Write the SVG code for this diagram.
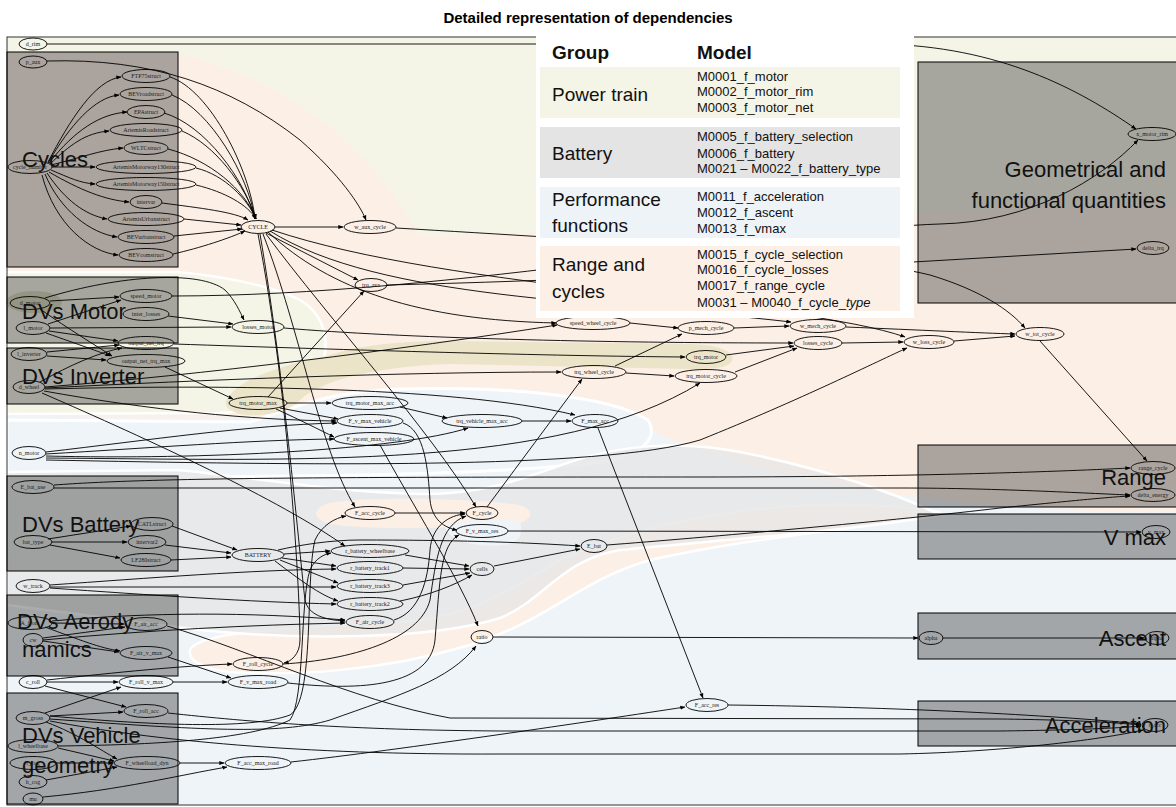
<svg xmlns="http://www.w3.org/2000/svg" width="1176" height="807" viewBox="0 0 1176 807">
<defs>
<marker id="a" viewBox="0 0 6 6" refX="5.6" refY="3" markerWidth="5" markerHeight="5" orient="auto" markerUnits="userSpaceOnUse"><path d="M0,0.6 L6,3 L0,5.4 Z" fill="#000"/></marker>
<style>
.n ellipse{fill:none;stroke:#000;stroke-width:0.9}
.n text{font-family:"Liberation Serif","Times New Roman",serif;font-size:6px;fill:#222;text-anchor:middle}
.e path{fill:none;stroke:#000;stroke-width:0.9;marker-end:url(#a)}
.cl{fill:#484848;fill-opacity:0.45;stroke:#000;stroke-width:1}
.lb{font-family:"Liberation Sans",Arial,sans-serif;font-size:22px;fill:#111}
.lbe{font-family:"Liberation Sans",Arial,sans-serif;font-size:22px;fill:#111;text-anchor:end}
.lg{font-family:"Liberation Sans",Arial,sans-serif;font-size:19px;fill:#111}
.lm{font-family:"Liberation Sans",Arial,sans-serif;font-size:13px;fill:#111}
</style>
</defs>
<rect width="1176" height="807" fill="#fff"/>
<text x="588" y="23" text-anchor="middle" font-family="Liberation Sans, Arial, sans-serif" font-size="15" font-weight="bold" fill="#000">Detailed representation of dependencies</text>

<g id="background">
<rect x="7" y="37" width="1175" height="768" fill="#eff4f8"/>
<path d="M7,37 H1176 V205 C1000,207 700,222 540,232 L420,236 C395,190 330,90 178,53 L7,53 Z" fill="#f4f5e6"/>
<path d="M7,53 L178,53 C330,90 395,190 420,236 L540,232 C700,222 1000,207 1176,205 V512 C1080,514 980,505 900,495 C800,480 700,455 650,430 C600,400 500,388 420,388 C360,390 320,400 290,418 L7,416 Z" fill="#fcefe6"/>
<path d="M7,420 L250,422 C290,410 320,392 400,389 C500,386 610,395 648,420 C660,440 640,455 600,462 C500,475 300,478 7,476 Z" fill="#eff4f8" stroke="#fff" stroke-width="3"/>
<path d="M190,650 C200,630 300,628 400,622 C470,618 510,590 560,560 C650,520 800,490 940,512 C900,525 760,535 650,560 C580,580 550,620 470,645 C380,672 290,676 230,672 C200,668 188,660 190,650 Z" fill="#fcefe6" stroke="#fff" stroke-width="2.5"/>
<path d="M7,472 L178,470 C260,478 330,492 420,494 C480,495 520,480 570,462 C620,445 680,440 740,452 C830,470 900,495 940,515 C860,530 720,540 620,550 C560,560 545,600 500,618 C430,640 300,640 200,630 L7,605 Z" fill="#e6e6e6" fill-opacity="0.8" stroke="#fff" stroke-width="2.5"/>
<path d="M330,503 C360,497 460,497 520,505 C540,512 530,525 500,526 C440,528 360,530 330,524 C310,518 313,507 330,503 Z" fill="#fcefe6"/>
<path d="M445,525 C470,518 510,518 520,522 C525,540 515,548 480,545 C460,543 445,535 445,525 Z" fill="#eff4f8"/>
<path d="M7,272 L178,272 C220,276 270,285 300,300 C325,315 333,345 318,372 C305,395 270,410 220,413 L7,414 Z" fill="#f4f5e6" stroke="#fff" stroke-width="2.5"/>
<path d="M230,395 C240,380 280,365 330,355 C360,345 400,341 450,341 L690,344 C720,345 735,352 732,360 C730,368 715,369 690,369 L450,364 C380,366 320,380 300,400 C290,412 260,418 240,414 C225,410 222,402 230,395 Z" fill="#ece4c9"/>
<ellipse cx="34" cy="302" rx="28" ry="11" fill="#d6d6b4"/>
<rect x="7" y="37" width="1175" height="768" fill="none" stroke="#333" stroke-width="1"/>
</g>

<g id="clusters">
<rect id="c_cycles" class="cl" x="7" y="52" width="171" height="215"/>
<rect id="c_motor" class="cl" x="7" y="277" width="171" height="66"/>
<rect id="c_inverter" class="cl" x="7" y="348" width="171" height="56"/>
<rect id="c_battery" class="cl" x="7" y="476" width="171" height="95"/>
<rect id="c_aero" class="cl" x="7" y="595" width="171" height="81"/>
<rect id="c_vehicle" class="cl" x="7" y="693" width="171" height="111"/>
<rect id="c_geom" class="cl" x="918" y="62" width="264" height="241"/>
<rect id="c_range" class="cl" x="918" y="445" width="264" height="62"/>
<rect id="c_vmax" class="cl" x="918" y="514" width="264" height="45"/>
<rect id="c_ascent" class="cl" x="918" y="613" width="264" height="46"/>
<rect id="c_acc" class="cl" x="918" y="701" width="264" height="45"/>
</g>

<g id="edges" class="e">
<path d="M47,44 L880,44 C1000,46 1080,90 1136,129"/>
<path d="M47,61 C150,58 230,85 300,140 C340,175 360,205 366,220"/>
<path d="M48,162 C70,120 95,80 121,77"/>
<path d="M48,163 C70,125 95,97 119,95"/>
<path d="M49,163 C75,130 100,114 127,112"/>
<path d="M50,164 C70,145 85,133 109,131"/>
<path d="M51,165 C80,158 100,150 123,148"/>
<path d="M52,167 L95,167"/>
<path d="M51,170 C70,178 80,183 95,184"/>
<path d="M49,172 C80,190 105,200 129,202"/>
<path d="M47,173 C65,200 85,215 107,219"/>
<path d="M45,174 C60,210 90,233 117,237"/>
<path d="M42,175 C55,225 90,252 118,255"/>
<path d="M170,77 C210,90 250,170 255,219"/>
<path d="M172,95 C210,110 248,175 255,219"/>
<path d="M164,113 C205,125 245,180 255,219"/>
<path d="M182,131 C215,145 245,185 256,219"/>
<path d="M168,149 C210,160 245,190 256,219"/>
<path d="M196,168 C225,175 248,200 256,219"/>
<path d="M196,185 C225,192 248,205 256,219"/>
<path d="M162,203 C200,208 235,212 248,220"/>
<path d="M184,219 L241,225"/>
<path d="M174,236 L242,229"/>
<path d="M173,254 C200,248 230,238 245,231"/>
<path d="M275,227 L343,227"/>
<path d="M396,228 C600,240 850,255 930,275 C980,290 1010,310 1025,328"/>
<path d="M266,233 L358,280"/>
<path d="M268,232 C330,290 420,320 556,323"/>
<path d="M270,231 C380,300 600,300 791,322"/>
<path d="M272,230 C450,290 800,300 905,337"/>
<path d="M263,234 C300,330 320,450 355,507"/>
<path d="M266,234 C330,320 430,430 476,507"/>
<path d="M260,234 C285,380 300,560 305,600 C308,615 325,620 345,621"/>
<path d="M258,234 C290,400 300,600 300,640 C300,655 290,662 284,663"/>
<path d="M387,285 C600,280 800,268 913,262 L1136,249"/>
<path d="M172,296 C450,296 800,228 940,224 C1030,222 1100,180 1138,140"/>
<path d="M50,301 L119,297"/>
<path d="M45,298 C120,275 200,270 225,290 C235,300 240,312 244,320"/>
<path d="M40,309 C70,330 95,345 112,356"/>
<path d="M48,324 L121,300"/>
<path d="M50,328 L231,327"/>
<path d="M49,331 L118,341"/>
<path d="M46,333 C80,345 100,352 110,356"/>
<path d="M168,316 L233,324"/>
<path d="M47,352 L119,345"/>
<path d="M47,356 L106,360"/>
<path d="M40,382 C70,365 100,352 122,348"/>
<path d="M45,387 C200,375 400,350 557,325"/>
<path d="M45,388 C200,380 400,372 561,372"/>
<path d="M44,391 C150,410 250,420 336,421"/>
<path d="M45,389 C200,385 450,385 575,415"/>
<path d="M42,393 C150,440 280,500 345,546"/>
<path d="M165,367 L233,399"/>
<path d="M174,344 C350,350 550,356 685,357"/>
<path d="M284,328 C400,338 600,343 793,343"/>
<path d="M268,397 L364,291"/>
<path d="M287,403 L331,403"/>
<path d="M280,408 L338,419"/>
<path d="M276,409 C300,420 320,430 334,437"/>
<path d="M400,407 L447,418"/>
<path d="M522,421 L571,421"/>
<path d="M598,428 L703,698"/>
<path d="M46,452 C150,440 250,425 337,423"/>
<path d="M46,454 C150,448 250,440 334,439"/>
<path d="M46,456 C200,460 400,450 468,428"/>
<path d="M46,458 C300,460 560,470 700,383"/>
<path d="M46,460 C300,465 600,470 700,440 C800,400 880,360 907,348"/>
<path d="M630,323 L678,328"/>
<path d="M615,366 L682,334"/>
<path d="M626,373 L674,376"/>
<path d="M487,507 L582,379"/>
<path d="M734,328 L789,326"/>
<path d="M726,355 L794,346"/>
<path d="M735,372 L797,348"/>
<path d="M842,343 L903,342"/>
<path d="M846,327 C920,330 980,333 1015,334"/>
<path d="M954,341 L1015,336"/>
<path d="M1040,341 L1147,461"/>
<path d="M54,485 C150,478 300,477 700,477 C900,477 1050,472 1130,468"/>
<path d="M54,488 L900,488 C1000,488 1100,494 1130,495"/>
<path d="M607,545 C700,538 900,520 1000,508 C1080,500 1110,497 1130,496"/>
<path d="M508,531 L1141,532"/>
<path d="M493,637 L918,638"/>
<path d="M943,638 L1144,638"/>
<path d="M728,705 C900,707 1050,715 1141,724"/>
<path d="M167,626 C250,650 350,700 450,718 L1000,719 C1080,720 1120,723 1141,725"/>
<path d="M168,713 C250,722 350,730 500,731 L1000,731 C1080,730 1120,728 1141,726"/>
<path d="M50,721 C150,740 300,755 500,754 L900,754 C1000,752 1100,740 1143,730"/>
<path d="M48,539 L131,526"/>
<path d="M52,542 L127,542"/>
<path d="M50,545 L120,558"/>
<path d="M172,526 L237,550"/>
<path d="M165,545 L231,553"/>
<path d="M171,560 L231,557"/>
<path d="M278,550 C300,545 330,540 360,540 C450,540 520,542 580,546"/>
<path d="M284,554 L330,551"/>
<path d="M282,558 L336,566"/>
<path d="M280,560 L338,583"/>
<path d="M275,561 C300,580 320,595 338,601"/>
<path d="M405,555 L469,566"/>
<path d="M403,568 L469,569"/>
<path d="M403,585 L470,573"/>
<path d="M400,601 C430,595 455,585 472,575"/>
<path d="M494,566 L580,549"/>
<path d="M50,585 C150,578 250,570 336,569"/>
<path d="M50,587 L336,587"/>
<path d="M50,588 C150,595 250,602 336,604"/>
<path d="M395,513 L465,513"/>
<path d="M394,620 C420,612 428,580 430,550 C432,525 450,515 465,514"/>
<path d="M283,664 C350,660 420,640 430,600 C436,560 440,525 466,516"/>
<path d="M288,683 C350,690 430,690 435,640 C440,580 440,545 459,535"/>
<path d="M403,423 C425,430 428,470 430,500 C432,520 445,528 457,530"/>
<path d="M380,445 C410,500 460,580 478,626"/>
<path d="M50,719 C200,730 280,735 330,720 C400,695 450,680 476,646"/>
<path d="M50,716 C150,725 250,730 290,715 C315,700 305,580 315,540 C322,525 335,518 346,516"/>
<path d="M58,746 C150,745 250,740 290,720 C305,700 300,600 310,570 C315,558 325,554 331,553"/>
<path d="M52,623 L124,624"/>
<path d="M45,627 C80,640 100,648 120,651"/>
<path d="M52,621 C150,612 250,612 345,620"/>
<path d="M43,638 L125,627"/>
<path d="M43,641 L119,652"/>
<path d="M43,640 C150,630 250,625 345,623"/>
<path d="M168,657 L231,678"/>
<path d="M47,682 L118,682"/>
<path d="M47,680 C120,672 180,666 232,664"/>
<path d="M45,686 L126,707"/>
<path d="M173,682 L227,682"/>
<path d="M45,713 L121,687"/>
<path d="M50,716 L123,712"/>
<path d="M46,722 C80,735 100,750 117,759"/>
<path d="M58,748 L114,761"/>
<path d="M56,763 L113,763"/>
<path d="M46,780 L117,767"/>
<path d="M180,763 L224,763"/>
<path d="M43,797 C120,790 180,775 227,767"/>
<path d="M291,762 C400,750 600,720 685,707"/>
</g>

<g id="nodes" class="n">
<g id="n_d_rim"><ellipse cx="33" cy="44" rx="14" ry="6"/><text x="33" y="46">d_rim</text></g>
<g id="n_p_aux"><ellipse cx="33" cy="62" rx="14" ry="6"/><text x="33" y="64">p_aux</text></g>
<g id="n_cycle_number"><ellipse cx="30" cy="167" rx="22" ry="6.5"/><text x="30" y="169">cycle_number</text></g>
<g id="n_FTP75struct"><ellipse cx="146" cy="76" rx="24" ry="6.5"/><text x="146" y="78">FTP75struct</text></g>
<g id="n_BEVroadstruct"><ellipse cx="146" cy="94" rx="26" ry="6.5"/><text x="146" y="96">BEVroadstruct</text></g>
<g id="n_EPAstruct"><ellipse cx="146" cy="112" rx="19" ry="6.5"/><text x="146" y="114">EPAstruct</text></g>
<g id="n_ArtemisRoadstruct"><ellipse cx="146" cy="130" rx="36" ry="6.5"/><text x="146" y="132">ArtemisRoadstruct</text></g>
<g id="n_WLTCstruct"><ellipse cx="146" cy="148" rx="22" ry="6.5"/><text x="146" y="150">WLTCstruct</text></g>
<g id="n_AM130"><ellipse cx="146" cy="167" rx="50" ry="6.5"/><text x="146" y="169">ArtemisMotorway130struct</text></g>
<g id="n_AM150"><ellipse cx="146" cy="184" rx="50" ry="6.5"/><text x="146" y="186">ArtemisMotorway150struct</text></g>
<g id="n_intervar"><ellipse cx="146" cy="202" rx="16" ry="6.5"/><text x="146" y="204">intervar</text></g>
<g id="n_ArtemisUrbanstruct"><ellipse cx="146" cy="219" rx="38" ry="6.5"/><text x="146" y="221">ArtemisUrbanstruct</text></g>
<g id="n_BEVurbanstruct"><ellipse cx="146" cy="237" rx="28" ry="6.5"/><text x="146" y="239">BEVurbanstruct</text></g>
<g id="n_BEVcomstruct"><ellipse cx="146" cy="255" rx="27" ry="6.5"/><text x="146" y="257">BEVcomstruct</text></g>
<g id="n_CYCLE"><ellipse cx="258" cy="227" rx="17" ry="6.5"/><text x="258" y="229">CYCLE</text></g>
<g id="n_w_aux_cycle"><ellipse cx="370" cy="227" rx="26" ry="6.5"/><text x="370" y="229">w_aux_cycle</text></g>
<g id="n_trq_ava"><ellipse cx="371" cy="285" rx="16" ry="6.5"/><text x="371" y="287">trq_ava</text></g>
<g id="n_d_motor"><ellipse cx="30" cy="303" rx="20" ry="6.5"/><text x="30" y="305">d_motor</text></g>
<g id="n_speed_motor"><ellipse cx="146" cy="296" rx="26" ry="6.5"/><text x="146" y="298">speed_motor</text></g>
<g id="n_inter_losses"><ellipse cx="146" cy="314" rx="23" ry="6.5"/><text x="146" y="316">inter_losses</text></g>
<g id="n_l_motor"><ellipse cx="33" cy="328" rx="17" ry="6.5"/><text x="33" y="330">l_motor</text></g>
<g id="n_losses_motor"><ellipse cx="258" cy="327" rx="26" ry="6.5"/><text x="258" y="329">losses_motor</text></g>
<g id="n_output_net_trq"><ellipse cx="146" cy="343" rx="28" ry="6.5"/><text x="146" y="345">output_net_trq</text></g>
<g id="n_l_inverter"><ellipse cx="29" cy="354" rx="18" ry="6.5"/><text x="29" y="356">l_inverter</text></g>
<g id="n_output_net_trq_max"><ellipse cx="146" cy="361" rx="39" ry="6.5"/><text x="146" y="363">output_net_trq_max</text></g>
<g id="n_d_wheel"><ellipse cx="29" cy="387" rx="16" ry="6.5"/><text x="29" y="389">d_wheel</text></g>
<g id="n_trq_motor_max"><ellipse cx="258" cy="403" rx="29" ry="6.5"/><text x="258" y="405">trq_motor_max</text></g>
<g id="n_trq_motor_max_acc"><ellipse cx="370" cy="403" rx="38" ry="6.5"/><text x="370" y="405">trq_motor_max_acc</text></g>
<g id="n_F_v_max_vehicle"><ellipse cx="370" cy="421" rx="33" ry="6.5"/><text x="370" y="423">F_v_max_vehicle</text></g>
<g id="n_F_ascent_max_vehicle"><ellipse cx="374" cy="439" rx="40" ry="6.5"/><text x="374" y="441">F_ascent_max_vehicle</text></g>
<g id="n_trq_vehicle_max_acc"><ellipse cx="482" cy="421" rx="40" ry="6.5"/><text x="482" y="423">trq_vehicle_max_acc</text></g>
<g id="n_F_max_acc"><ellipse cx="595" cy="421" rx="23" ry="6.5"/><text x="595" y="423">F_max_acc</text></g>
<g id="n_speed_wheel_cycle"><ellipse cx="593" cy="323" rx="37" ry="6.5"/><text x="593" y="325">speed_wheel_cycle</text></g>
<g id="n_trq_wheel_cycle"><ellipse cx="594" cy="372" rx="32" ry="6.5"/><text x="594" y="374">trq_wheel_cycle</text></g>
<g id="n_p_mech_cycle"><ellipse cx="706" cy="328" rx="28" ry="6.5"/><text x="706" y="330">p_mech_cycle</text></g>
<g id="n_w_mech_cycle"><ellipse cx="818" cy="326" rx="28" ry="6.5"/><text x="818" y="328">w_mech_cycle</text></g>
<g id="n_losses_cycle"><ellipse cx="818" cy="343" rx="24" ry="6.5"/><text x="818" y="345">losses_cycle</text></g>
<g id="n_trq_motor"><ellipse cx="706" cy="357" rx="20" ry="6.5"/><text x="706" y="359">trq_motor</text></g>
<g id="n_trq_motor_cycle"><ellipse cx="706" cy="376" rx="31" ry="6.5"/><text x="706" y="378">trq_motor_cycle</text></g>
<g id="n_w_loss_cycle"><ellipse cx="929" cy="342" rx="25" ry="6.5"/><text x="929" y="344">w_loss_cycle</text></g>
<g id="n_w_tot_cycle"><ellipse cx="1040" cy="334" rx="24" ry="6.5"/><text x="1040" y="336">w_tot_cycle</text></g>
<g id="n_x_motor_rim"><ellipse cx="1152" cy="134" rx="24" ry="6.5"/><text x="1152" y="136">x_motor_rim</text></g>
<g id="n_delta_trq"><ellipse cx="1153" cy="248" rx="16" ry="6.5"/><text x="1153" y="250">delta_trq</text></g>
<g id="n_n_motor"><ellipse cx="29" cy="453" rx="17" ry="6.5"/><text x="29" y="455">n_motor</text></g>
<g id="n_E_bat_use"><ellipse cx="33" cy="487" rx="21" ry="6.5"/><text x="33" y="489">E_bat_use</text></g>
<g id="n_CATLstruct"><ellipse cx="152" cy="524" rx="21" ry="6.5"/><text x="152" y="526">CATLstruct</text></g>
<g id="n_bat_type"><ellipse cx="33" cy="542" rx="19" ry="6.5"/><text x="33" y="544">bat_type</text></g>
<g id="n_intervar2"><ellipse cx="147" cy="542" rx="19" ry="6.5"/><text x="147" y="544">intervar2</text></g>
<g id="n_LF280struct"><ellipse cx="146" cy="560" rx="25" ry="6.5"/><text x="146" y="562">LF280struct</text></g>
<g id="n_BATTERY"><ellipse cx="258" cy="555" rx="26" ry="6.5"/><text x="258" y="557">BATTERY</text></g>
<g id="n_w_track"><ellipse cx="33" cy="586" rx="17" ry="6.5"/><text x="33" y="588">w_track</text></g>
<g id="n_F_acc_cycle"><ellipse cx="370" cy="513" rx="25" ry="6.5"/><text x="370" y="515">F_acc_cycle</text></g>
<g id="n_F_cycle"><ellipse cx="482" cy="513" rx="16" ry="6.5"/><text x="482" y="515">F_cycle</text></g>
<g id="n_F_v_max_res"><ellipse cx="482" cy="531" rx="26" ry="6.5"/><text x="482" y="533">F_v_max_res</text></g>
<g id="n_r_battery_wheelbase"><ellipse cx="370" cy="551" rx="39" ry="6.5"/><text x="370" y="553">r_battery_wheelbase</text></g>
<g id="n_E_bat"><ellipse cx="594" cy="546" rx="13" ry="6.5"/><text x="594" y="548">E_bat</text></g>
<g id="n_r_battery_track1"><ellipse cx="370" cy="568" rx="33" ry="6.5"/><text x="370" y="570">r_battery_track1</text></g>
<g id="n_cells"><ellipse cx="482" cy="569" rx="12" ry="6.5"/><text x="482" y="571">cells</text></g>
<g id="n_r_battery_track3"><ellipse cx="370" cy="586" rx="33" ry="6.5"/><text x="370" y="588">r_battery_track3</text></g>
<g id="n_r_battery_track2"><ellipse cx="370" cy="604" rx="33" ry="6.5"/><text x="370" y="606">r_battery_track2</text></g>
<g id="n_F_air_cycle"><ellipse cx="370" cy="622" rx="24" ry="6.5"/><text x="370" y="624">F_air_cycle</text></g>
<g id="n_ratio"><ellipse cx="482" cy="637" rx="11" ry="6.5"/><text x="482" y="639">ratio</text></g>
<g id="n_A_front"><ellipse cx="30" cy="623" rx="22" ry="6.5"/><text x="30" y="625">A_front</text></g>
<g id="n_F_air_acc"><ellipse cx="146" cy="624" rx="21" ry="6.5"/><text x="146" y="626">F_air_acc</text></g>
<g id="n_cw"><ellipse cx="33" cy="640" rx="10" ry="6.5"/><text x="33" y="642">cw</text></g>
<g id="n_F_air_v_max"><ellipse cx="146" cy="653" rx="26" ry="6.5"/><text x="146" y="655">F_air_v_max</text></g>
<g id="n_F_roll_cycle"><ellipse cx="258" cy="664" rx="25" ry="6.5"/><text x="258" y="666">F_roll_cycle</text></g>
<g id="n_c_roll"><ellipse cx="33" cy="682" rx="14" ry="6.5"/><text x="33" y="684">c_roll</text></g>
<g id="n_F_roll_v_max"><ellipse cx="146" cy="682" rx="27" ry="6.5"/><text x="146" y="684">F_roll_v_max</text></g>
<g id="n_F_v_max_road"><ellipse cx="258" cy="682" rx="30" ry="6.5"/><text x="258" y="684">F_v_max_road</text></g>
<g id="n_F_roll_acc"><ellipse cx="146" cy="711" rx="22" ry="6.5"/><text x="146" y="713">F_roll_acc</text></g>
<g id="n_m_gross"><ellipse cx="33" cy="718" rx="17" ry="6.5"/><text x="33" y="720">m_gross</text></g>
<g id="n_l_wheelbase"><ellipse cx="33" cy="746" rx="25" ry="6.5"/><text x="33" y="748">l_wheelbase</text></g>
<g id="n_l_cog"><ellipse cx="33" cy="763" rx="23" ry="6.5"/><text x="33" y="765">l_cog</text></g>
<g id="n_F_wheelload_dyn"><ellipse cx="147" cy="763" rx="33" ry="6.5"/><text x="147" y="765">F_wheelload_dyn</text></g>
<g id="n_F_acc_max_road"><ellipse cx="258" cy="763" rx="33" ry="6.5"/><text x="258" y="765">F_acc_max_road</text></g>
<g id="n_h_cog"><ellipse cx="33" cy="782" rx="14" ry="6.5"/><text x="33" y="784">h_cog</text></g>
<g id="n_mu"><ellipse cx="33" cy="799" rx="10" ry="6"/><text x="33" y="801">mu</text></g>
<g id="n_F_acc_res"><ellipse cx="707" cy="705" rx="21" ry="6.5"/><text x="707" y="707">F_acc_res</text></g>
<g id="n_range_cycle"><ellipse cx="1153" cy="468" rx="22" ry="6.5"/><text x="1153" y="470">range_cycle</text></g>
<g id="n_delta_energy"><ellipse cx="1153" cy="495" rx="22" ry="6.5"/><text x="1153" y="497">delta_energy</text></g>
<g id="n_v_max"><ellipse cx="1156" cy="532" rx="14" ry="6.5"/><text x="1156" y="534">v_max</text></g>
<g id="n_alpha"><ellipse cx="931" cy="638" rx="12" ry="6.5"/><text x="931" y="640">alpha</text></g>
<g id="n_alpha_max"><ellipse cx="1157" cy="638" rx="12" ry="6.5"/><text x="1157" y="640">alpha</text></g>
<g id="n_t_acc"><ellipse cx="1155" cy="725" rx="13" ry="6.5"/><text x="1155" y="727">t_acc</text></g>
</g>

<g id="cluster-labels">
<text class="lb" x="22" y="167">Cycles</text>
<text class="lb" x="22" y="319">DVs Motor</text>
<text class="lb" x="22" y="384">DVs Inverter</text>
<text class="lb" x="22" y="532">DVs Battery</text>
<text class="lb" x="17" y="629">DVs Aerody</text>
<text class="lb" x="22" y="657">namics</text>
<text class="lb" x="22" y="743">DVs Vehicle</text>
<text class="lb" x="22" y="773">geometry</text>
<text class="lbe" x="1166" y="177">Geometrical and</text>
<text class="lbe" x="1166" y="208">functional quantities</text>
<text class="lbe" x="1166" y="485">Range</text>
<text class="lbe" x="1166" y="545">V max</text>
<text class="lbe" x="1166" y="646">Ascent</text>
<text class="lbe" x="1166" y="733">Acceleration</text>
</g>

<g id="legend">
<rect x="536" y="33" width="378" height="285" fill="#fff"/>
<text x="552" y="59" font-family="Liberation Sans, Arial, sans-serif" font-size="19" font-weight="bold" fill="#111">Group</text>
<text x="697" y="59" font-family="Liberation Sans, Arial, sans-serif" font-size="19" font-weight="bold" fill="#111">Model</text>
<rect x="540" y="67" width="360" height="51" fill="#f4f5e6"/>
<rect x="540" y="127" width="360" height="51" fill="#e4e4e4"/>
<rect x="540" y="187" width="360" height="51" fill="#eef3f7"/>
<rect x="540" y="246" width="360" height="65" fill="#fcefe6"/>
<text class="lg" x="552" y="101">Power train</text>
<text class="lg" x="552" y="160">Battery</text>
<text class="lg" x="552" y="206">Performance</text>
<text class="lg" x="552" y="232">functions</text>
<text class="lg" x="552" y="271">Range and</text>
<text class="lg" x="552" y="298">cycles</text>
<text class="lm" x="697" y="81">M0001_f_motor</text>
<text class="lm" x="697" y="96">M0002_f_motor_rim</text>
<text class="lm" x="697" y="112">M0003_f_motor_net</text>
<text class="lm" x="697" y="141">M0005_f_battery_selection</text>
<text class="lm" x="697" y="158">M0006_f_battery</text>
<text class="lm" x="697" y="173">M0021 – M0022_f_battery_type</text>
<text class="lm" x="697" y="201">M0011_f_acceleration</text>
<text class="lm" x="697" y="217">M0012_f_ascent</text>
<text class="lm" x="697" y="233">M0013_f_vmax</text>
<text class="lm" x="697" y="259">M0015_f_cycle_selection</text>
<text class="lm" x="697" y="274">M0016_f_cycle_losses</text>
<text class="lm" x="697" y="290">M0017_f_range_cycle</text>
<text class="lm" x="697" y="307">M0031 – M0040_f_cycle_<tspan font-style="italic">type</tspan></text>
</g>
</svg>
